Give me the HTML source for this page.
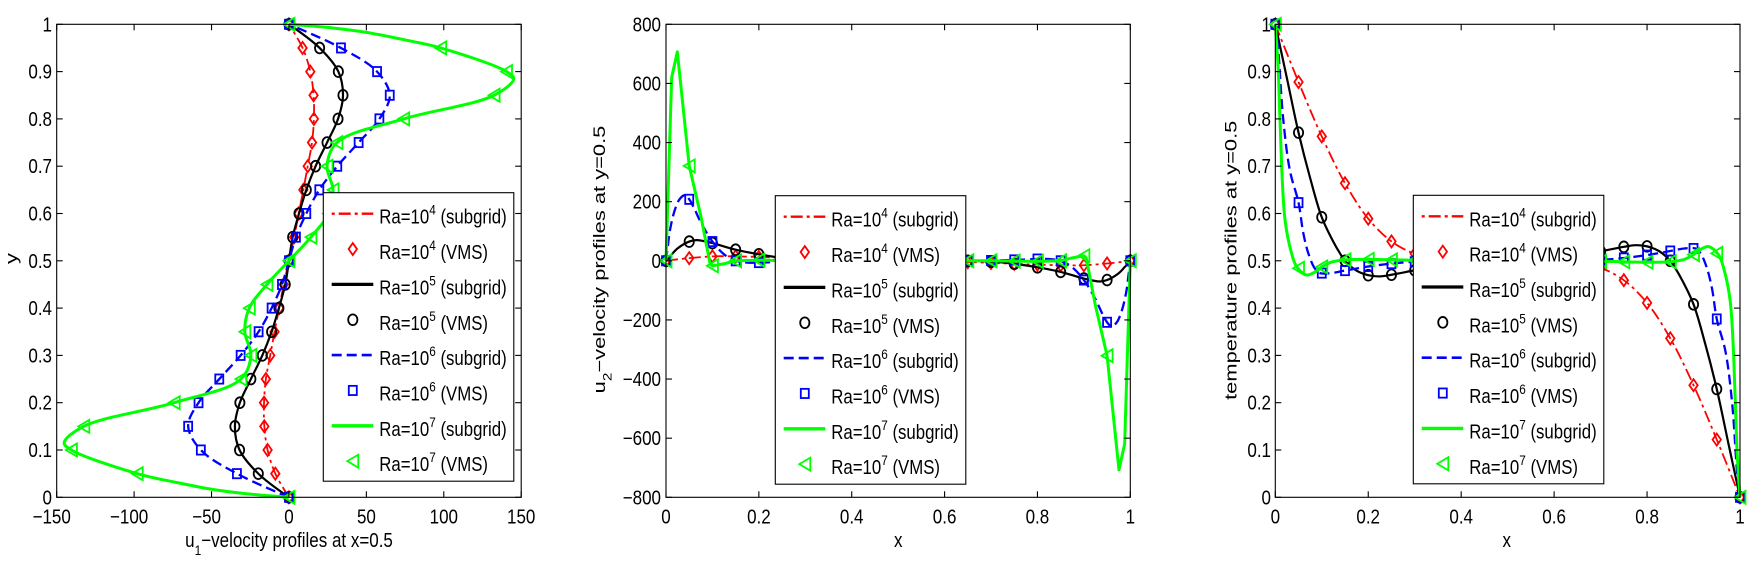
<!DOCTYPE html>
<html><head><meta charset="utf-8">
<style>
html,body{margin:0;padding:0;background:#fff;}
svg{display:block;}
text{font-family:"Liberation Sans",Arial,sans-serif;font-size:20px;fill:#000;}
</style></head><body>
<svg id="s" xmlns="http://www.w3.org/2000/svg" width="1756" height="566" viewBox="0 0 1756 566">
<rect width="1756" height="566" fill="#fff"/>
<g id="data"></g>
<g id="axes" fill="none" stroke="#000" stroke-width="1.1"></g>

<!-- Plot 1 tick labels -->
<g text-anchor="end">
<text transform="translate(52,504.3) scale(0.85,1)">0</text>
<text transform="translate(52,457) scale(0.85,1)">0.1</text>
<text transform="translate(52,409.7) scale(0.85,1)">0.2</text>
<text transform="translate(52,362.4) scale(0.85,1)">0.3</text>
<text transform="translate(52,315.1) scale(0.85,1)">0.4</text>
<text transform="translate(52,267.8) scale(0.85,1)">0.5</text>
<text transform="translate(52,220.5) scale(0.85,1)">0.6</text>
<text transform="translate(52,173.2) scale(0.85,1)">0.7</text>
<text transform="translate(52,125.9) scale(0.85,1)">0.8</text>
<text transform="translate(52,78.6) scale(0.85,1)">0.9</text>
<text transform="translate(52,31.3) scale(0.85,1)">1</text>
</g>
<g text-anchor="middle">
<text transform="translate(51.7,523.3) scale(0.85,1)">−150</text>
<text transform="translate(129.1,523.3) scale(0.85,1)">−100</text>
<text transform="translate(206.6,523.3) scale(0.85,1)">−50</text>
<text transform="translate(289,523.3) scale(0.85,1)">0</text>
<text transform="translate(366.4,523.3) scale(0.85,1)">50</text>
<text transform="translate(443.8,523.3) scale(0.85,1)">100</text>
<text transform="translate(521.2,523.3) scale(0.85,1)">150</text>
<text transform="translate(289,547) scale(0.85,1)">u<tspan font-size="14" dy="8">1</tspan><tspan dy="-8">−velocity profiles at x=0.5</tspan></text>
<text transform="translate(17,258.5) rotate(-90) scale(1.095,0.83)">y</text>
</g>

<!-- Plot 2 tick labels -->
<g text-anchor="end">
<text transform="translate(661,504.3) scale(0.85,1)">−800</text>
<text transform="translate(661,445.2) scale(0.85,1)">−600</text>
<text transform="translate(661,386.05) scale(0.85,1)">−400</text>
<text transform="translate(661,326.9) scale(0.85,1)">−200</text>
<text transform="translate(661,267.8) scale(0.85,1)">0</text>
<text transform="translate(661,208.7) scale(0.85,1)">200</text>
<text transform="translate(661,149.55) scale(0.85,1)">400</text>
<text transform="translate(661,90.4) scale(0.85,1)">600</text>
<text transform="translate(661,31.3) scale(0.85,1)">800</text>
</g>
<g text-anchor="middle">
<text transform="translate(666,523.3) scale(0.85,1)">0</text>
<text transform="translate(758.9,523.3) scale(0.85,1)">0.2</text>
<text transform="translate(851.7,523.3) scale(0.85,1)">0.4</text>
<text transform="translate(944.6,523.3) scale(0.85,1)">0.6</text>
<text transform="translate(1037.4,523.3) scale(0.85,1)">0.8</text>
<text transform="translate(1130.3,523.3) scale(0.85,1)">1</text>
<text transform="translate(898.3,547) scale(0.85,1)">x</text>
<text transform="translate(605,259.5) rotate(-90) scale(1.095,0.83)">u<tspan font-size="14" dy="8">2</tspan><tspan dy="-8">−velocity profiles at y=0.5</tspan></text>
</g>

<!-- Plot 3 tick labels -->
<g text-anchor="end">
<text transform="translate(1271,504.3) scale(0.85,1)">0</text>
<text transform="translate(1271,457) scale(0.85,1)">0.1</text>
<text transform="translate(1271,409.7) scale(0.85,1)">0.2</text>
<text transform="translate(1271,362.4) scale(0.85,1)">0.3</text>
<text transform="translate(1271,315.1) scale(0.85,1)">0.4</text>
<text transform="translate(1271,267.8) scale(0.85,1)">0.5</text>
<text transform="translate(1271,220.5) scale(0.85,1)">0.6</text>
<text transform="translate(1271,173.2) scale(0.85,1)">0.7</text>
<text transform="translate(1271,125.9) scale(0.85,1)">0.8</text>
<text transform="translate(1271,78.6) scale(0.85,1)">0.9</text>
<text transform="translate(1271,31.3) scale(0.85,1)">1</text>
</g>
<g text-anchor="middle">
<text transform="translate(1275.3,523.3) scale(0.85,1)">0</text>
<text transform="translate(1368.2,523.3) scale(0.85,1)">0.2</text>
<text transform="translate(1461.2,523.3) scale(0.85,1)">0.4</text>
<text transform="translate(1554.1,523.3) scale(0.85,1)">0.6</text>
<text transform="translate(1647.1,523.3) scale(0.85,1)">0.8</text>
<text transform="translate(1740,523.3) scale(0.85,1)">1</text>
<text transform="translate(1506.7,547) scale(0.85,1)">x</text>
<text transform="translate(1236.5,260.3) rotate(-90) scale(1.095,0.83)">temperature profiles at y=0.5</text>
</g>

<!-- Legend 1 -->
<g transform="translate(323.3,192.7)">
<rect x="0" y="0" width="190.5" height="288.5" fill="#fff" stroke="#000" stroke-width="1.1"/>
<line x1="8.4" y1="21" x2="50" y2="21" stroke="#f00" stroke-width="2.4" stroke-dasharray="3 4 12 4"/>
<line x1="8.4" y1="91.7" x2="50" y2="91.7" stroke="#000" stroke-width="3.2"/>
<line x1="8.4" y1="162.4" x2="50" y2="162.4" stroke="#00f" stroke-width="2.6" stroke-dasharray="10 5"/>
<line x1="8.4" y1="233.1" x2="50" y2="233.1" stroke="#0f0" stroke-width="3.4"/>
<g class="lm"></g>
<text transform="translate(56,31) scale(0.84,1)">Ra=10<tspan font-size="14" dy="-9">4</tspan><tspan dy="9"> (subgrid)</tspan></text>
<text transform="translate(56,66.35) scale(0.84,1)">Ra=10<tspan font-size="14" dy="-9">4</tspan><tspan dy="9"> (VMS)</tspan></text>
<text transform="translate(56,101.7) scale(0.84,1)">Ra=10<tspan font-size="14" dy="-9">5</tspan><tspan dy="9"> (subgrid)</tspan></text>
<text transform="translate(56,137.05) scale(0.84,1)">Ra=10<tspan font-size="14" dy="-9">5</tspan><tspan dy="9"> (VMS)</tspan></text>
<text transform="translate(56,172.4) scale(0.84,1)">Ra=10<tspan font-size="14" dy="-9">6</tspan><tspan dy="9"> (subgrid)</tspan></text>
<text transform="translate(56,207.75) scale(0.84,1)">Ra=10<tspan font-size="14" dy="-9">6</tspan><tspan dy="9"> (VMS)</tspan></text>
<text transform="translate(56,243.1) scale(0.84,1)">Ra=10<tspan font-size="14" dy="-9">7</tspan><tspan dy="9"> (subgrid)</tspan></text>
<text transform="translate(56,278.45) scale(0.84,1)">Ra=10<tspan font-size="14" dy="-9">7</tspan><tspan dy="9"> (VMS)</tspan></text>
</g>

<!-- Legend 2 -->
<g transform="translate(775.3,195.7)">
<rect x="0" y="0" width="190.5" height="288.5" fill="#fff" stroke="#000" stroke-width="1.1"/>
<line x1="8.4" y1="21" x2="50" y2="21" stroke="#f00" stroke-width="2.4" stroke-dasharray="3 4 12 4"/>
<line x1="8.4" y1="91.7" x2="50" y2="91.7" stroke="#000" stroke-width="3.2"/>
<line x1="8.4" y1="162.4" x2="50" y2="162.4" stroke="#00f" stroke-width="2.6" stroke-dasharray="10 5"/>
<line x1="8.4" y1="233.1" x2="50" y2="233.1" stroke="#0f0" stroke-width="3.4"/>
<g class="lm"></g>
<text transform="translate(56,31) scale(0.84,1)">Ra=10<tspan font-size="14" dy="-9">4</tspan><tspan dy="9"> (subgrid)</tspan></text>
<text transform="translate(56,66.35) scale(0.84,1)">Ra=10<tspan font-size="14" dy="-9">4</tspan><tspan dy="9"> (VMS)</tspan></text>
<text transform="translate(56,101.7) scale(0.84,1)">Ra=10<tspan font-size="14" dy="-9">5</tspan><tspan dy="9"> (subgrid)</tspan></text>
<text transform="translate(56,137.05) scale(0.84,1)">Ra=10<tspan font-size="14" dy="-9">5</tspan><tspan dy="9"> (VMS)</tspan></text>
<text transform="translate(56,172.4) scale(0.84,1)">Ra=10<tspan font-size="14" dy="-9">6</tspan><tspan dy="9"> (subgrid)</tspan></text>
<text transform="translate(56,207.75) scale(0.84,1)">Ra=10<tspan font-size="14" dy="-9">6</tspan><tspan dy="9"> (VMS)</tspan></text>
<text transform="translate(56,243.1) scale(0.84,1)">Ra=10<tspan font-size="14" dy="-9">7</tspan><tspan dy="9"> (subgrid)</tspan></text>
<text transform="translate(56,278.45) scale(0.84,1)">Ra=10<tspan font-size="14" dy="-9">7</tspan><tspan dy="9"> (VMS)</tspan></text>
</g>

<!-- Legend 3 -->
<g transform="translate(1413.3,195.3)">
<rect x="0" y="0" width="190.5" height="288.5" fill="#fff" stroke="#000" stroke-width="1.1"/>
<line x1="8.4" y1="21" x2="50" y2="21" stroke="#f00" stroke-width="2.4" stroke-dasharray="3 4 12 4"/>
<line x1="8.4" y1="91.7" x2="50" y2="91.7" stroke="#000" stroke-width="3.2"/>
<line x1="8.4" y1="162.4" x2="50" y2="162.4" stroke="#00f" stroke-width="2.6" stroke-dasharray="10 5"/>
<line x1="8.4" y1="233.1" x2="50" y2="233.1" stroke="#0f0" stroke-width="3.4"/>
<g class="lm"></g>
<text transform="translate(56,31) scale(0.84,1)">Ra=10<tspan font-size="14" dy="-9">4</tspan><tspan dy="9"> (subgrid)</tspan></text>
<text transform="translate(56,66.35) scale(0.84,1)">Ra=10<tspan font-size="14" dy="-9">4</tspan><tspan dy="9"> (VMS)</tspan></text>
<text transform="translate(56,101.7) scale(0.84,1)">Ra=10<tspan font-size="14" dy="-9">5</tspan><tspan dy="9"> (subgrid)</tspan></text>
<text transform="translate(56,137.05) scale(0.84,1)">Ra=10<tspan font-size="14" dy="-9">5</tspan><tspan dy="9"> (VMS)</tspan></text>
<text transform="translate(56,172.4) scale(0.84,1)">Ra=10<tspan font-size="14" dy="-9">6</tspan><tspan dy="9"> (subgrid)</tspan></text>
<text transform="translate(56,207.75) scale(0.84,1)">Ra=10<tspan font-size="14" dy="-9">6</tspan><tspan dy="9"> (VMS)</tspan></text>
<text transform="translate(56,243.1) scale(0.84,1)">Ra=10<tspan font-size="14" dy="-9">7</tspan><tspan dy="9"> (subgrid)</tspan></text>
<text transform="translate(56,278.45) scale(0.84,1)">Ra=10<tspan font-size="14" dy="-9">7</tspan><tspan dy="9"> (VMS)</tspan></text>
</g>
</svg>
<script>
(function(){
const NS="http://www.w3.org/2000/svg";
function el(p,tag,a){const e=document.createElementNS(NS,tag);for(const k in a)e.setAttribute(k,a[k]);p.appendChild(e);return e;}
function f(n){return (+n).toFixed(2);}
function cr(pts){
  let d="M"+f(pts[0][0])+","+f(pts[0][1]);
  for(let i=0;i<pts.length-1;i++){
    const p0=pts[i-1]||pts[i],p1=pts[i],p2=pts[i+1],p3=pts[i+2]||pts[i+1];
    const l01=Math.hypot(p1[0]-p0[0],p1[1]-p0[1]),l12=Math.hypot(p2[0]-p1[0],p2[1]-p1[1]),l23=Math.hypot(p3[0]-p2[0],p3[1]-p2[1]);
    const a01=Math.sqrt(l01),a12=Math.sqrt(l12),a23=Math.sqrt(l23);
    let c1=[p1[0],p1[1]],c2=[p2[0],p2[1]];
    if(a01>1e-6){const A=2*l01+3*a01*a12+l12,N=3*a01*(a01+a12);
      c1=[(p1[0]*A-p0[0]*l12+p2[0]*l01)/N,(p1[1]*A-p0[1]*l12+p2[1]*l01)/N];}
    if(a23>1e-6){const B=2*l23+3*a23*a12+l12,M=3*a23*(a23+a12);
      c2=[(p2[0]*B+p1[0]*l23-p3[0]*l12)/M,(p2[1]*B+p1[1]*l23-p3[1]*l12)/M];}
    d+=" C"+f(c1[0])+","+f(c1[1])+" "+f(c2[0])+","+f(c2[1])+" "+f(p2[0])+","+f(p2[1]);
  }
  return d;
}
function lin(pts){return "M"+pts.map(p=>f(p[0])+","+f(p[1])).join("L");}
function interp(list,t){
  for(let i=0;i<list.length-1;i++){
    const a=list[i],b=list[i+1];
    if(t>=a[0]-1e-9&&t<=b[0]+1e-9){const fr=(b[0]-a[0])?(t-a[0])/(b[0]-a[0]):0;return a[1]+fr*(b[1]-a[1]);}
  }
  return list[list.length-1][1];
}
function mirror(half,mode){
  let full=half.concat(half.map(([t,v])=>[1-t,mode==='neg'?-v:1-v]));
  full.sort((a,b)=>a[0]-b[0]);
  const out=[];for(const p of full){if(!out.length||Math.abs(out[out.length-1][0]-p[0])>1e-9)out.push(p);}
  return out;
}
function marker(g,type,cx,cy){
  const c={d:'#f00',o:'#000',s:'#00f',t:'#0f0'}[type];
  const a={fill:'none',stroke:c,'stroke-width':1.8};
  if(type==='d'){a.d=`M${cx},${cy-6}L${cx+4.2},${cy}L${cx},${cy+6}L${cx-4.2},${cy}Z`;el(g,'path',a);}
  else if(type==='o'){a.cx=cx;a.cy=cy;a.rx=4.6;a.ry=5.4;el(g,'ellipse',a);}
  else if(type==='s'){a.x=cx-4;a.y=cy-4.6;a.width=8;a.height=9.2;el(g,'rect',a);}
  else {a.d=`M${cx-5.5},${cy}L${cx+5.5},${cy-6.5}L${cx+5.5},${cy+6.5}Z`;el(g,'path',a);}
}
const S=[
 {c:'#f00',w:1.8,dash:'12 4 3 4',m:'d'},
 {c:'#000',w:2.2,m:'o'},
 {c:'#00f',w:2.3,dash:'10 5',m:'s'},
 {c:'#0f0',w:3,m:'t'}
];
const P=[
 {map:(t,v)=>[56.7+(v+150)*464.5/300,497.3-t*473],mode:'neg',
  halves:[
   [[0.5,0],[0.55,3.4],[0.6,6.3],[0.65,9.3],[0.7,12.1],[0.75,14.9],[0.8,16.1],[0.85,15.9],[0.9,13.8],[0.95,8.8],[1,0]],
   [[0.5,0],[0.55,2.4],[0.6,6.5],[0.65,11.2],[0.7,17.2],[0.75,24.6],[0.8,31.7],[0.85,34.9],[0.9,31.9],[0.95,19.8],[1,0]],
   [[0.5,0],[0.55,4.5],[0.6,11.2],[0.65,19.6],[0.7,31.2],[0.75,45],[0.8,58.4],[0.85,65.1],[0.9,56.9],[0.95,33.6],[1,0]],
   [[0.5,0],[0.55,14.2],[0.6,25.6],[0.65,28.5],[0.7,24.6],[0.75,31],[0.8,74.1],[0.85,132.5],[0.885,145.2],[0.9,140.5],[0.95,98],[0.969,72],[0.983,50],[0.992,29],[1,0]]
  ],linear:[false,false,false,false]},
 {map:(t,v)=>[666+t*464.3,260.8-v*473/1600],mode:'neg',
  halves:[
   [[0,0],[0.025,5],[0.05,9],[0.1,15],[0.15,15],[0.2,13],[0.25,10],[0.3,7],[0.35,4.5],[0.4,2.5],[0.45,1],[0.5,0]],
   [[0,0],[0.0125,22],[0.025,42],[0.05,65],[0.065,70],[0.08,67],[0.1,60],[0.15,37.5],[0.2,22],[0.25,10],[0.3,3],[0.35,0],[0.4,-1],[0.45,-0.6],[0.5,0]],
   [[0,0],[0.004,50],[0.0086,104],[0.019,172],[0.03,210],[0.041,222],[0.05,208],[0.06,180],[0.075,130],[0.1,65],[0.125,22],[0.15,0],[0.175,-6],[0.2,-6],[0.25,-3],[0.3,-1],[0.35,0],[0.5,0]],
   [[0,0],[0.0122,620],[0.0244,707],[0.05,321],[0.075,152],[0.095,-10],[0.1,-17],[0.125,-10],[0.15,0],[0.2,2],[0.25,1],[0.3,0],[0.5,0]]
  ],linear:[false,false,false,true]},
 {map:(t,v)=>[1275.3+t*464.7,497.3-v*473],mode:'one',
  halves:[
   [[0,1],[0.05,0.878],[0.1,0.763],[0.15,0.664],[0.2,0.589],[0.25,0.541],[0.3,0.515],[0.35,0.505],[0.4,0.502],[0.45,0.501],[0.5,0.5]],
   [[0,1],[0.025,0.886],[0.05,0.771],[0.075,0.675],[0.1,0.592],[0.125,0.54],[0.139,0.516],[0.15,0.5],[0.175,0.479],[0.2,0.4695],[0.225,0.467],[0.25,0.4705],[0.3,0.48],[0.35,0.489],[0.4,0.495],[0.45,0.498],[0.5,0.5]],
   [[0,1],[0.006,0.95],[0.017,0.8],[0.0316,0.69],[0.05,0.623],[0.06,0.56],[0.071,0.516],[0.085,0.484],[0.096,0.474],[0.12,0.474],[0.146,0.4786],[0.2,0.488],[0.25,0.494],[0.3,0.498],[0.4,0.5],[0.5,0.5]],
   [[0,1],[0.0065,0.9],[0.01,0.8],[0.021,0.586],[0.035,0.516],[0.046,0.4875],[0.0676,0.47],[0.085,0.476],[0.1,0.487],[0.12,0.497],[0.15,0.502],[0.2,0.503],[0.3,0.501],[0.4,0.5],[0.5,0.5]]
  ],linear:[false,false,false,false]}
];
const dg=document.getElementById('data');
P.forEach(pl=>{
  pl.halves.forEach((half,si)=>{
    const st=S[si];
    const full=mirror(half,pl.mode);
    const pts=full.map(([t,v])=>pl.map(t,v));
    const a={d:pl.linear[si]?lin(pts):cr(pts),fill:'none',stroke:st.c,'stroke-width':st.w,'stroke-linejoin':'round'};
    if(st.dash)a['stroke-dasharray']=st.dash;
    el(dg,'path',a);
    for(let k=0;k<=20;k++){const t=k/20;const v=interp(full,t);const p=pl.map(t,v);marker(dg,st.m,+p[0].toFixed(2),+p[1].toFixed(2));}
  });
});
const ag=document.getElementById('axes');
const T=24.3,B=497.3;
function axes(L,R,xt,yt){
  el(ag,'rect',{x:L,y:T,width:R-L,height:B-T});
  xt.forEach(x=>{el(ag,'line',{x1:x,y1:B,x2:x,y2:B-6});el(ag,'line',{x1:x,y1:T,x2:x,y2:T+6});});
  yt.forEach(y=>{el(ag,'line',{x1:L,y1:y,x2:L+6,y2:y});el(ag,'line',{x1:R,y1:y,x2:R-6,y2:y});});
}
const yt01=[];for(let k=0;k<=10;k++)yt01.push(B-k*47.3);
const xt1=[];for(let k=0;k<=6;k++)xt1.push(56.7+k*464.5/6);
const xt2=[];for(let k=0;k<=5;k++)xt2.push(666+k*464.3/5);
const yt2=[];for(let k=0;k<=8;k++)yt2.push(B-k*473/8);
const xt3=[];for(let k=0;k<=5;k++)xt3.push(1275.3+k*464.7/5);
axes(56.7,521.2,xt1,yt01);
axes(666,1130.3,xt2,yt2);
axes(1275.3,1740,xt3,yt01);
document.querySelectorAll('.lm').forEach(g=>{
  marker(g,'d',29.5,56.35);marker(g,'o',29.5,127.05);marker(g,'s',29.5,197.75);marker(g,'t',29.5,268.45);
});
})();
</script>
</body></html>
